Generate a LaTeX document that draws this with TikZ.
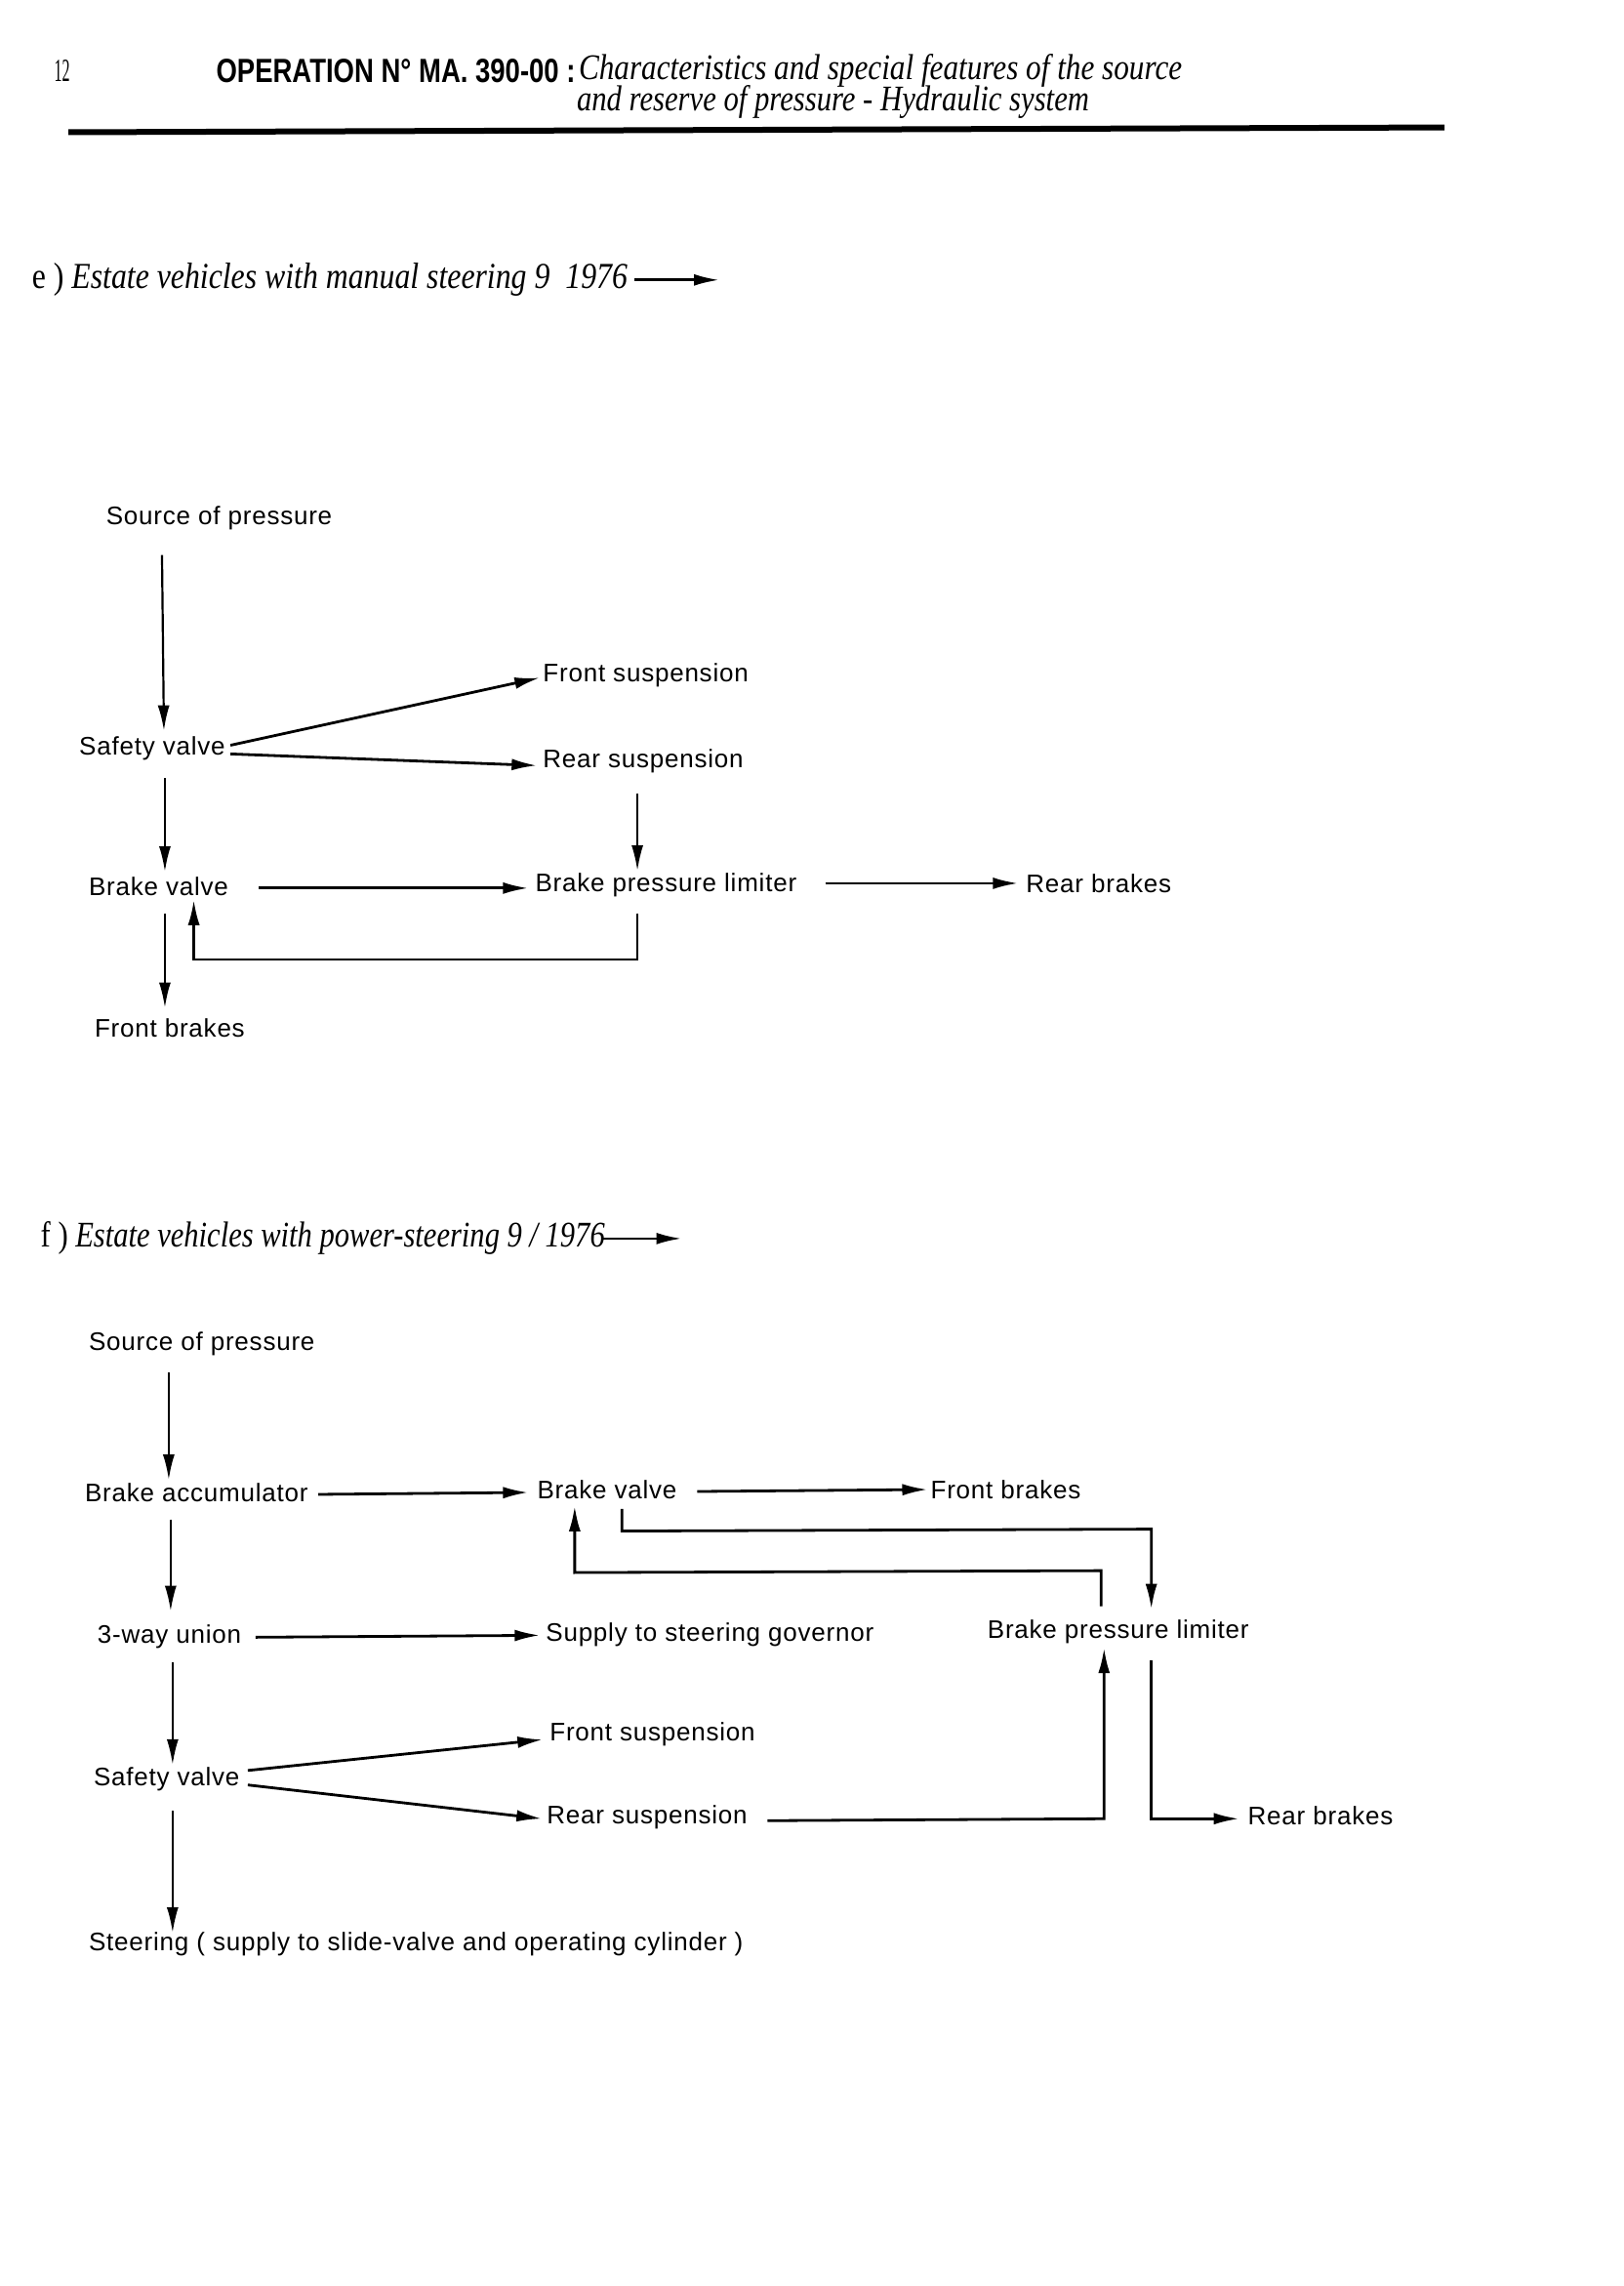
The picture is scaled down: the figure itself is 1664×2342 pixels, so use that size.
\documentclass[tikz,border=0pt]{standalone}
\usepackage{fontspec}
\setmainfont[LetterSpace=3]{Liberation Sans}
\newfontfamily\ital{Liberation Serif}
\newfontfamily\hdbold{Liberation Sans}
\usetikzlibrary{arrows.meta}
\begin{document}
\begin{tikzpicture}[x=0.988pt,y=-0.989pt,
  lbl/.style={anchor=west,inner sep=0pt,font=\fontsize{26}{29}\selectfont},
  ar/.style={line width=2.8pt,-{Latex[length=26pt,width=12pt]}},
  ln/.style={line width=2.8pt}]
\useasboundingbox (0pt,0pt) rectangle (1664pt,-2342pt);
% header
\node[anchor=west,inner sep=0pt] (pg) at (56,73) {\resizebox{16pt}{22pt}{\ital 12}};
\node[anchor=west,inner sep=0pt] (op) at (224,73) {\resizebox{368pt}{24pt}{\hdbold\bfseries OPERATION N° MA. 390-00 :}};
\node[anchor=west,inner sep=0pt] (t1) at (600,73) {\resizebox{618pt}{26pt}{\ital\itshape Characteristics and special features of the source}};
\node[anchor=west,inner sep=0pt] (t2) at (598,106) {\resizebox{525pt}{26pt}{\ital\itshape and reserve of pressure - Hydraulic system}};
\coordinate (r1) at (71,137); \coordinate (r2) at (1498,132);
\draw[line width=6pt] (r1) -- (r2);
% section e
\node[anchor=west,inner sep=0pt] (he) at (33,290) {\resizebox{610pt}{26pt}{\ital e ) \itshape Estate vehicles with manual steering 9 \ 1976}};
\coordinate (he1) at (658,290); \coordinate (he2) at (746,290);
\draw[ar] (he1) -- (he2);
\node[lbl] (es) at (110,537) {Source of pressure};
\node[lbl] (esv) at (82,775) {Safety valve};
\node[lbl] (efs) at (563,699) {Front suspension};
\node[lbl] (ers) at (563,788) {Rear suspension};
\node[lbl] (ebv) at (92,918) {Brake valve};
\node[lbl] (ebpl) at (555,917) {Brake pressure limiter};
\node[lbl] (erb) at (1064,915) {Rear brakes};
\node[lbl] (efb) at (98,1065) {Front brakes};
\coordinate (e1) at (168,575); \coordinate (e2) at (170,757);
\draw[ar,line width=2.2pt] (e1) -- (e2);
\coordinate (e3) at (239,772); \coordinate (e4) at (560,702);
\draw[ar] (e3) -- (e4);
\coordinate (e5) at (239,781); \coordinate (e6) at (557,793);
\draw[ar] (e5) -- (e6);
\coordinate (e7) at (171,806); \coordinate (e8) at (171,903);
\draw[ar,line width=2.2pt] (e7) -- (e8);
\coordinate (e9) at (268,920); \coordinate (e10) at (548,920);
\draw[ar] (e9) -- (e10);
\coordinate (e11) at (661,822); \coordinate (e12) at (661,902);
\draw[ar,line width=2.2pt] (e11) -- (e12);
\coordinate (e13) at (856,915); \coordinate (e14) at (1056,915);
\draw[ar] (e13) -- (e14);
\coordinate (e15) at (171,946); \coordinate (e16) at (171,1044);
\draw[ar,line width=2.2pt] (e15) -- (e16);
\coordinate (e17) at (661,946); \coordinate (e18) at (201,932);
\draw[ar] (e17) -- (661,994) -- (201,994) -- (e18);
% section f
\node[anchor=west,inner sep=0pt] (hf) at (42,1283) {\resizebox{578pt}{26pt}{\ital f ) \itshape Estate vehicles with power-steering 9 / 1976}};
\coordinate (hf1) at (625,1283); \coordinate (hf2) at (707,1283);
\draw[ar] (hf1) -- (hf2);
\node[lbl] (fs) at (92,1392) {Source of pressure};
\node[lbl] (fba) at (88,1546) {Brake accumulator};
\node[lbl] (fbv) at (557,1543) {Brake valve};
\node[lbl] (ffb) at (965,1543) {Front brakes};
\node[lbl] (f3w) at (101,1695) {3-way union};
\node[lbl] (fsup) at (566,1693) {Supply to steering governor};
\node[lbl] (fbpl) at (1024,1690) {Brake pressure limiter};
\node[lbl] (fsv) at (97,1843) {Safety valve};
\node[lbl] (ffs) at (570,1797) {Front suspension};
\node[lbl] (frs) at (567,1882) {Rear suspension};
\node[lbl] (frb) at (1294,1881) {Rear brakes};
\node[lbl] (fst) at (92,2014) {Steering ( supply to slide-valve and operating cylinder )};
\coordinate (f1) at (175,1422); \coordinate (f2) at (175,1533);
\draw[ar,line width=2.2pt] (f1) -- (f2);
\coordinate (f3) at (330,1548); \coordinate (f4) at (548,1546);
\draw[ar] (f3) -- (f4);
\coordinate (f5) at (723,1545); \coordinate (f6) at (962,1543);
\draw[ar] (f5) -- (f6);
\coordinate (f7) at (177,1574); \coordinate (f8) at (177,1669);
\draw[ar,line width=2.2pt] (f7) -- (f8);
\coordinate (f9) at (265,1696); \coordinate (f10) at (560,1694);
\draw[ar] (f9) -- (f10);
\coordinate (f11) at (645,1563); \coordinate (f12) at (1194,1667);
\draw[ar] (f11) -- (645,1586) -- (1194,1584) -- (f12);
\coordinate (f13) at (1142,1664); \coordinate (f14) at (596,1560);
\draw[ar] (f13) -- (1142,1627) -- (596,1629) -- (f14);
\coordinate (f15) at (179,1722); \coordinate (f16) at (179,1828);
\draw[ar,line width=2.2pt] (f15) -- (f16);
\coordinate (f17) at (257,1834); \coordinate (f18) at (563,1802);
\draw[ar] (f17) -- (f18);
\coordinate (f19) at (257,1849); \coordinate (f20) at (562,1884);
\draw[ar] (f19) -- (f20);
\coordinate (f21) at (796,1886); \coordinate (f22) at (1145,1707);
\draw[ar] (f21) -- (1145,1884) -- (f22);
\coordinate (f23) at (1194,1720); \coordinate (f24) at (1285,1884);
\draw[ar] (f23) -- (1194,1884) -- (f24);
\coordinate (f25) at (179,1876); \coordinate (f26) at (179,2002);
\draw[ar,line width=2.2pt] (f25) -- (f26);
\end{tikzpicture}
\end{document}
